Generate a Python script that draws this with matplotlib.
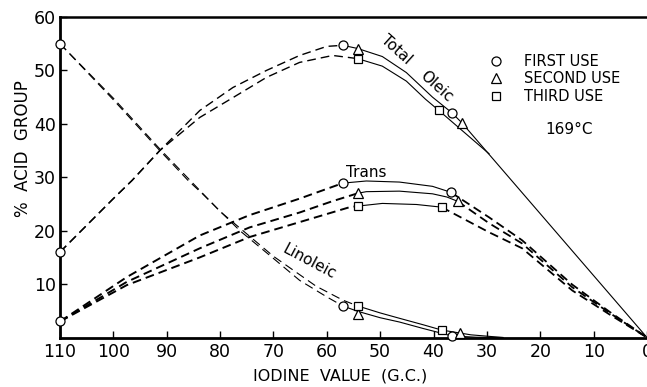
import matplotlib.pyplot as plt

# ==========================
# MEASURED POINTS (iodine value, % acid group)
# ==========================
FIRST_IV = [110, 110, 110, 57, 57, 57, 36.6, 36.8, 36.6]
FIRST_VAL = [55, 16, 3, 54.7, 28.9, 5.9, 42.1, 27.2, 0.3]

SECOND_IV = [54.2, 54.2, 54.2, 34.7, 35.5, 35.0]
SECOND_VAL = [54.1, 27.0, 4.4, 40.2, 25.5, 0.8]

THIRD_IV = [54.2, 54.2, 54.2, 39.0, 38.5, 38.5]
THIRD_VAL = [52.2, 24.6, 5.9, 42.5, 24.4, 1.4]

# ==========================
# CURVES
# ==========================
# total oleic
OLEIC_A_DASH_IV = [110, 100, 96.5, 91.3, 83.8, 77.6, 71.3, 65.1, 60, 57]
OLEIC_A_DASH = [16, 26, 29.4, 35, 42.5, 46.8, 50, 52.8, 54.5, 54.7]
OLEIC_B_DASH_IV = [110, 100, 96.5, 91.3, 83.8, 77.6, 71.3, 65.1, 58.9, 55.7, 54.2]
OLEIC_B_DASH = [16, 26, 29.4, 35, 41.2, 44.9, 48.7, 51.5, 52.8, 52.4, 52.2]
OLEIC_A_SOLID_IV = [57, 54.2, 49.6, 45.1, 40.2, 36.6, 34.7, 0]
OLEIC_A_SOLID = [54.7, 54.1, 52.6, 49.6, 45.0, 42.1, 40.2, 0]
OLEIC_B_SOLID_IV = [54.2, 49.6, 45.1, 41.5, 39.0, 29.6]
OLEIC_B_SOLID = [52.2, 50.8, 48.0, 44.6, 42.5, 34.4]

# trans
TRANS_A_DASH_IV = [110, 97.5, 83.8, 74.5, 65.1, 57]
TRANS_A_DASH = [3, 11.3, 19.1, 22.9, 26, 28.9]
TRANS_B_DASH_IV = [110, 97.5, 83.8, 74.5, 65.1, 59, 54.2]
TRANS_B_DASH = [3, 10.4, 16.7, 20.6, 23.4, 25.5, 27.0]
TRANS_C_DASH_IV = [110, 97.5, 83.8, 74.5, 65.1, 55.7, 54.2]
TRANS_C_DASH = [3, 9.8, 15, 18.8, 21.6, 24.4, 24.6]

TRANS_A_SOLID_IV = [57, 52.6, 46.4, 40.2, 36.8]
TRANS_A_SOLID = [28.9, 29.3, 29.1, 28.3, 27.2]
TRANS_B_SOLID_IV = [54.2, 52.6, 46.4, 40.2, 37.5, 35.5]
TRANS_B_SOLID = [27.0, 27.3, 27.4, 26.9, 26.3, 25.5]
TRANS_C_SOLID_IV = [54.2, 49.6, 43.2, 38.5]
TRANS_C_SOLID = [24.6, 25.1, 24.9, 24.4]

TRANS_A_TAIL_IV = [36.8, 29.6, 23.4, 14, 7, 0]
TRANS_A_TAIL = [27.2, 22.5, 18.2, 9.9, 4.8, 0]
TRANS_B_TAIL_IV = [35.5, 29.6, 23.4, 14, 7, 0]
TRANS_B_TAIL = [25.5, 21.4, 17.6, 9.4, 4.6, 0]
TRANS_C_TAIL_IV = [38.5, 29.6, 23.4, 14, 7, 0]
TRANS_C_TAIL = [24.4, 19.7, 16.7, 8.8, 4.3, 0]

# linoleic
LINO_A_DASH_IV = [110, 100, 91.3, 86, 83.4, 76.3, 70, 65.1, 60, 57]
LINO_A_DASH = [55, 44.5, 35, 29.4, 27, 20, 14.8, 10.7, 7.6, 5.9]
LINO_B_DASH_IV = [110, 100, 91.3, 80, 70, 62, 57, 54.2]
LINO_B_DASH = [55, 44.8, 35.3, 23.6, 15.2, 9.6, 7.0, 5.9]
LINO_A_SOLID_IV = [57, 54.2, 50, 46.4, 42, 38.5, 36.6, 32, 27]
LINO_A_SOLID = [5.9, 4.9, 3.7, 2.9, 1.7, 0.8, 0.3, 0.05, 0]
LINO_B_SOLID_IV = [54.2, 50, 46.4, 42, 38.5, 33, 27]
LINO_B_SOLID = [5.9, 4.6, 3.6, 2.4, 1.4, 0.5, 0]

XTICKS = list(range(110, -1, -10))
YTICKS = [10, 20, 30, 40, 50, 60]

# ==========================
# FIGURE
# ==========================
fig = plt.figure(figsize=(6.47, 3.87), dpi=100)
ax = fig.add_axes([60 / 647, 1 - 337.5 / 387, 587 / 647, 320.5 / 387])

k = "black"

# dashed segments
for xs, ys, lw in [
    (OLEIC_A_DASH_IV, OLEIC_A_DASH, 1.0),
    (OLEIC_B_DASH_IV, OLEIC_B_DASH, 1.0),
    (TRANS_A_DASH_IV, TRANS_A_DASH, 1.4),
    (TRANS_B_DASH_IV, TRANS_B_DASH, 1.4),
    (TRANS_C_DASH_IV, TRANS_C_DASH, 1.4),
    (TRANS_A_TAIL_IV, TRANS_A_TAIL, 1.3),
    (TRANS_B_TAIL_IV, TRANS_B_TAIL, 1.3),
    (TRANS_C_TAIL_IV, TRANS_C_TAIL, 1.3),
    (LINO_A_DASH_IV, LINO_A_DASH, 0.8),
    (LINO_B_DASH_IV, LINO_B_DASH, 0.8),
]:
    ax.plot(xs, ys, color=k, lw=lw, dashes=(6.3 / lw, 3.6 / lw))

# solid segments
for xs, ys in [
    (OLEIC_A_SOLID_IV, OLEIC_A_SOLID),
    (OLEIC_B_SOLID_IV, OLEIC_B_SOLID),
    (TRANS_A_SOLID_IV, TRANS_A_SOLID),
    (TRANS_B_SOLID_IV, TRANS_B_SOLID),
    (TRANS_C_SOLID_IV, TRANS_C_SOLID),
    (LINO_A_SOLID_IV, LINO_A_SOLID),
    (LINO_B_SOLID_IV, LINO_B_SOLID),
]:
    ax.plot(xs, ys, color=k, lw=0.8)

# markers
mk = dict(ls="none", mfc="white", mec=k, mew=0.9, zorder=5, clip_on=False)
ax.plot(FIRST_IV, FIRST_VAL, marker="o", ms=6.5, label="FIRST USE", **mk)
ax.plot(SECOND_IV, SECOND_VAL, marker="^", ms=6.5, label="SECOND USE", **mk)
ax.plot(THIRD_IV, THIRD_VAL, marker="s", ms=5.5, label="THIRD USE", **mk)

# --------------------------
# axes
# --------------------------
ax.set_xlim(110, 0)
ax.set_ylim(0, 60)
ax.set_xticks(XTICKS)
ax.set_xticklabels([str(v) for v in XTICKS])
ax.set_yticks(YTICKS)
ax.tick_params(direction="in", length=5, width=1, labelsize=12.5, color=k)
ax.tick_params(axis="y", pad=3)
ax.tick_params(axis="x", pad=4)

ax.spines["left"].set_linewidth(2.0)
ax.spines["bottom"].set_linewidth(2.0)
ax.spines["top"].set_linewidth(1.8)
ax.spines["right"].set_linewidth(0.6)

ax.set_xlabel("IODINE  VALUE  (G.C.)", fontsize=11.5)
ax.set_ylabel("%  ACID  GROUP", fontsize=12)
ax.xaxis.set_label_coords(0.477, -0.097)
ax.yaxis.set_label_coords(-0.047, 0.591)

# --------------------------
# curve labels
# --------------------------
ax.text(47.0, 53.9, "Total", fontsize=11, rotation=-42, ha="center", va="center")
ax.text(39.5, 47.0, "Oleic", fontsize=11, rotation=-42, ha="center", va="center")
ax.text(52.6, 30.9, "Trans", fontsize=11, ha="center", va="center")
ax.text(63.2, 14.1, "Linoleic", fontsize=11, rotation=-28, ha="center", va="center")
ax.text(14.6, 39.0, "169°C", fontsize=11, ha="center", va="center")

ax.legend(loc="upper left", bbox_to_anchor=(0.73, 0.885), frameon=False,
          fontsize=10.5, handlelength=1.0, handletextpad=1.4,
          labelspacing=0.18, borderpad=0, borderaxespad=0)

fig.savefig("out.png", dpi=100)
